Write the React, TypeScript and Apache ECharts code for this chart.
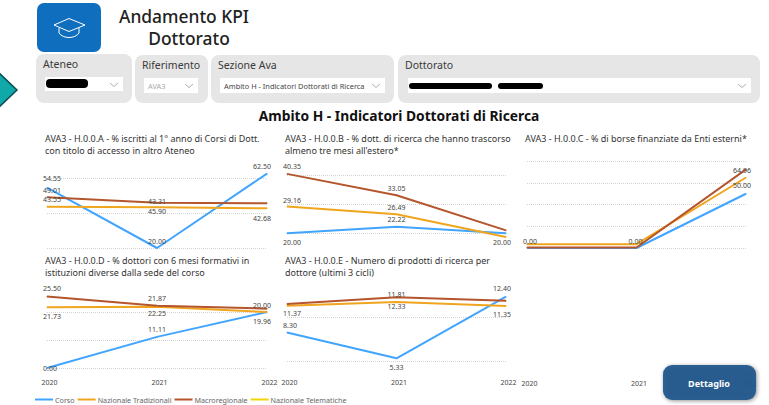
import React, { useEffect, useRef } from "react";
import * as echarts from "echarts";

const years = ["2020", "2021", "2022"];
const seriesNames = ["Corso", "Nazionale Tradizionali", "Macroregionale", "Nazionale Telematiche"];
const seriesColors = ["#41A5FF", "#F0A51E", "#B4552D", "#F2D40A"];

const titleA = "AVA3 - H.0.0.A - % iscritti al 1° anno di Corsi di Dott.\ncon titolo di accesso in altro Ateneo";
const titleB = "AVA3 - H.0.0.B - % dott. di ricerca che hanno trascorso\nalmeno tre mesi all'estero*";
const titleC = "AVA3 - H.0.0.C - % di borse finanziate da Enti esterni*";
const titleD = "AVA3 - H.0.0.D - % dottori con 6 mesi formativi in\nistituzioni diverse dalla sede del corso";
const titleE = "AVA3 - H.0.0.E - Numero di prodotti di ricerca per\ndottore (ultimi 3 cicli)";

const corsoA = [54.55, 20.0, 62.5];
const tradA = [43.55, 43.31, 42.68];
const macroA = [49.01, 45.9, 45.6];

const corsoB = [20.0, 22.22, 20.0];
const tradB = [29.16, 26.49, 18.7];
const macroB = [40.35, 33.05, 21.0];

const corsoC = [0.0, 0.0, 50.0];
const tradC = [3.5, 3.5, 64.96];
const macroC = [0.5, 0.5, 72.5];

const corsoD = [0.0, 11.11, 20.0];
const tradD = [21.73, 21.87, 19.96];
const macroD = [25.5, 22.25, 21.2];

const corsoE = [8.3, 5.33, 12.4];
const tradE = [11.37, 11.81, 11.35];
const macroE = [11.57, 12.33, 11.95];

type Off = [number, number] | null;
const panels: any[] = [
  { title: titleA, tx: 45, ty: 132, left: 47, width: 220, bottom: 248, ppu: 1.75, min: 20, max: 80, step: 20, showMin: true, values: [corsoA, tradA, macroA],
    offs: [[[5, -9], [0, -7], [-5, -7]], [[5, -7], [0, -6], [-5, 10]], [[5, -7], [0, 9], null]] as Off[][] },
  { title: titleB, tx: 285, ty: 132, left: 287, width: 219, bottom: 262.5, ppu: 2.92, min: 10, max: 50, step: 10, showMin: false, values: [corsoB, tradB, macroB],
    offs: [[[5, 9], [0, -7], [-4, 9]], [[5, -6], [0, -7], null], [[5, -7], [0, -7], null]] as Off[][] },
  { title: titleC, tx: 525, ty: 132, left: 527, width: 219, bottom: 248, ppu: 1.085, min: 0, max: 80, step: 20, showMin: true, showMax: true, values: [corsoC, tradC, macroC],
    offs: [[[3, -7], [-1, -7], [-4, -8]], [null, null, [-4, -7]], [null, null, null]] as Off[][] },
  { title: titleD, tx: 45, ty: 254, left: 47, width: 220, bottom: 368, ppu: 2.8, min: 0, max: 30, step: 10, showMin: true, margin: 11, showX: true, values: [corsoD, tradD, macroD],
    offs: [[[3, 0], [0, -7], [-5, -7]], [[5, 9], [0, -8], [-5, 9]], [[5, -8], [0, 8], null]] as Off[][] },
  { title: titleE, tx: 285, ty: 254, left: 287, width: 219, bottom: 361.2, ppu: 8.71, min: 5, max: 15, step: 5, showMin: true, margin: 18, showX: true, values: [corsoE, tradE, macroE],
    offs: [[[3, -7], [0, 9], [-4, -8]], [[5, 8], [0, -7], [-4, 9]], [null, [0, 9], null]] as Off[][] },
  { left: 527, width: 219, bottom: 372, ppu: 1, min: 0, max: 10, step: 10, margin: 8, showX: true, noLines: true, values: [], offs: [] },
];

const FONT = "'Noto Sans', sans-serif";
const SLICER = "#E6E6E6";

function slicer(x: number, y: number, w: number, h: number, label: string, bx: number, bw: number, by: number, bh: number, text?: string, textColor?: string) {
  const items: any[] = [
    { type: "rect", shape: { x, y, width: w, height: h, r: 8 }, style: { fill: SLICER } },
    { type: "text", x: x + 7, y: y + 10, style: { text: label, fill: "#3a3a3a", font: `10.5px ${FONT}`, verticalAlign: "middle" } },
    { type: "rect", shape: { x: bx, y: by, width: bw, height: bh }, style: { fill: "#fff" } },
    { type: "polyline", shape: { points: [[bx + bw - 13, by + 6], [bx + bw - 9, by + 9.5], [bx + bw - 5, by + 6]] }, style: { stroke: "#999", lineWidth: 0.8, fill: "none" } },
  ];
  if (text) items.push({ type: "text", x: bx + 4, y: by + bh / 2, style: { text, fill: textColor, font: `7.4px ${FONT}`, verticalAlign: "middle" } });
  return items;
}

const chrome: any[] = [
  { type: "polygon", shape: { points: [[-2, 72], [17, 90], [-2, 108]] }, style: { fill: "#10A8A8", stroke: "#0B4F55", lineWidth: 1.5 } },
  { type: "rect", shape: { x: 37, y: 3, width: 64, height: 49, r: 7 }, style: { fill: "#106EBE" } },
  { type: "polygon", shape: { points: [[54, 25], [69, 18.5], [85, 25], [69, 31.5]] }, style: { fill: "none", stroke: "#fff", lineWidth: 1 } },
  { type: "polyline", shape: { points: [[59, 28], [59, 33]] }, style: { fill: "none", stroke: "#fff", lineWidth: 1 } },
  { type: "polyline", shape: { points: [[79, 28], [79, 33]] }, style: { fill: "none", stroke: "#fff", lineWidth: 1 } },
  { type: "bezierCurve", shape: { x1: 59, y1: 33, x2: 79, y2: 33, cpx1: 63, cpy1: 39, cpx2: 75, cpy2: 39 }, style: { fill: "none", stroke: "#fff", lineWidth: 1 } },
  { type: "text", x: 184, y: 16, style: { text: "Andamento KPI", fill: "#222", font: `500 17.4px ${FONT}`, align: "center", verticalAlign: "middle" } },
  { type: "text", x: 189, y: 38, style: { text: "Dottorato", fill: "#222", font: `500 17.4px ${FONT}`, align: "center", verticalAlign: "middle" } },
  ...slicer(36, 54, 96, 49, "Ateneo", 45, 78, 77, 14),
  ...slicer(135, 55, 73, 48, "Riferimento", 144, 54, 78, 15, "AVA3", "#aaa"),
  ...slicer(211, 55, 183, 48, "Sezione Ava", 220, 165, 78, 15, "Ambito H - Indicatori Dottorati di Ricerca", "#444"),
  ...slicer(398, 55, 362, 48, "Dottorato", 408, 343, 78, 15),
  { type: "rect", shape: { x: 46, y: 79, width: 42, height: 9, r: 4 }, style: { fill: "#000" } },
  { type: "rect", shape: { x: 409, y: 83, width: 83, height: 6, r: 3 }, style: { fill: "#000" } },
  { type: "rect", shape: { x: 498, y: 83, width: 45, height: 6, r: 3 }, style: { fill: "#000" } },
  { type: "text", x: 399, y: 115, style: { text: "Ambito H - Indicatori Dottorati di Ricerca", fill: "#111", font: `bold 13.8px ${FONT}`, align: "center", verticalAlign: "middle" } },
  { type: "rect", z: 100, shape: { x: 663, y: 365, width: 93, height: 35, r: 9 }, style: { fill: "rgba(34,88,140,0.95)", shadowBlur: 4, shadowColor: "rgba(0,0,0,0.45)", shadowOffsetX: 1, shadowOffsetY: 1 } },
  { type: "text", z: 101, x: 709, y: 383, style: { text: "Dettaglio", fill: "#fff", font: `bold 9px ${FONT}`, align: "center", verticalAlign: "middle" } },
];

export default function App() {
  const ref = useRef<HTMLDivElement>(null);
  useEffect(() => {
    document.body.style.margin = "0";
    const chart = echarts.init(ref.current!, undefined, { renderer: "svg" });
    const grid = panels.map((p) => ({ left: p.left, width: p.width, top: p.bottom - (p.max - p.min) * p.ppu, height: (p.max - p.min) * p.ppu, containLabel: false }));
    const xAxis = panels.map((p, i) => ({
      type: "category", gridIndex: i, data: years, boundaryGap: false,
      axisLine: { show: false }, axisTick: { show: false }, splitLine: { show: false },
      axisLabel: { show: !!p.showX, margin: p.margin ?? 8, color: "#444", fontFamily: FONT, fontSize: 7, padding: [0, 0, 0, 5], interval: 0 },
    }));
    const yAxis = panels.map((p, i) => ({
      type: "value", gridIndex: i, min: p.min, max: p.max, interval: p.step,
      axisLine: { show: false }, axisTick: { show: false }, axisLabel: { show: false },
      splitLine: { show: !p.noLines, showMinLine: !!p.showMin, showMaxLine: !!p.showMax, lineStyle: { type: "dotted", color: "#d4d4d4", width: 1 } },
    }));
    const series: any[] = [];
    panels.forEach((p, i) => {
      p.values.forEach((vals: number[], s: number) => {
        series.push({
          type: "line", name: seriesNames[s], xAxisIndex: i, yAxisIndex: i, clip: false,
          symbol: "circle", symbolSize: 1, showSymbol: true, itemStyle: { color: seriesColors[s] },
          lineStyle: { width: 2, color: seriesColors[s] },
          data: vals.map((v, k) => {
            const o = p.offs[s][k];
            return {
              value: v,
              label: o
                ? { show: true, position: "inside", offset: o, align: "center", verticalAlign: "middle", formatter: v.toFixed(2), color: "#444", fontFamily: FONT, fontSize: 7 }
                : { show: false },
            };
          }),
        });
      });
    });
    series.push({ type: "line", name: seriesNames[3], xAxisIndex: 0, yAxisIndex: 0, data: [], itemStyle: { color: seriesColors[3] }, lineStyle: { color: seriesColors[3], width: 2 } });
    chart.setOption({
      animation: false,
      backgroundColor: "#fff",
      title: panels.filter((p) => p.title).map((p) => ({
        text: p.title, left: p.tx, top: p.ty, padding: 0,
        textStyle: { fontFamily: FONT, fontSize: 9, fontWeight: "normal", color: "#333", lineHeight: 12 },
      })),
      grid, xAxis, yAxis, series,
      legend: {
        data: seriesNames, left: 35, top: 396, padding: 0, itemWidth: 18, itemHeight: 2, itemGap: 3, icon: "rect",
        textStyle: { fontFamily: FONT, fontSize: 7.2, color: "#666", padding: [0, 0, 0, -3] },
      },
      graphic: { elements: chrome },
    });
    return () => chart.dispose();
  }, []);
  return <div ref={ref} style={{ width: 769, height: 405 }} />;
}
